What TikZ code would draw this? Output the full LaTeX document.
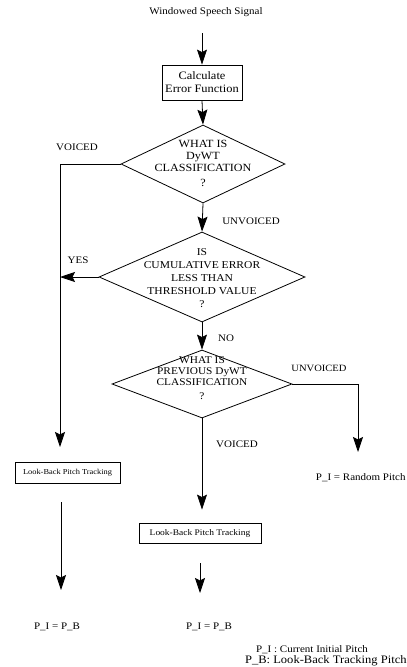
\documentclass[tikz,border=0pt]{standalone}
\usepackage{fontspec}
\setmainfont[FakeStretch=1.1]{Liberation Serif}
\usetikzlibrary{arrows.meta,shapes.geometric,calc}
\newcommand\fz[2]{\fontsize{#1}{#2}\selectfont}
\begin{document}
\begin{tikzpicture}[x=1pt,y=-1pt,
  line width=0.8pt,
  arr/.style={-{Stealth[length=15pt,width=10pt,inset=2.5pt]}},
  box/.style={draw, inner sep=0pt, align=center},
  dia/.style={draw, diamond, inner sep=0pt},
  dtxt/.style={align=center, inner sep=0pt},
  lbl/.style={inner sep=0pt, font=\fz{10}{12}}]
\useasboundingbox (0,0) rectangle (407,667);
% nodes
\node[inner sep=0pt, font=\fz{10}{12}] (title) at (206,12) {Windowed Speech Signal};
\coordinate (a0) at (202,33);
\node[box, minimum width=80pt, minimum height=35pt, font=\fz{11.3}{13}] (calc) at (202,82.5) {Calculate\\Error Function};
\node[dia, minimum width=164pt, minimum height=78pt] (d1) at (203,164) {};
\node[dtxt, font=\fz{11}{12}] (d1t) at (203,163) {WHAT IS\\DyWT\\CLASSIFICATION\\[3pt]?};
\node[dia, minimum width=206pt, minimum height=90pt] (d2) at (202,277) {};
\node[dtxt, font=\fz{10.5}{13}] (d2t) at (202,278) {IS\\CUMULATIVE ERROR\\LESS THAN\\THRESHOLD VALUE\\?};
\node[dia, minimum width=180pt, minimum height=68pt] (d3) at (202,384) {};
\node[dtxt, font=\fz{10.3}{11}] (d3t) at (202,378) {WHAT IS\\PREVIOUS DyWT\\CLASSIFICATION\\[3pt]?};
\node[box, minimum width=105pt, minimum height=21pt, font=\fz{7.6}{9}] (lb1) at (67.5,472.5) {Look-Back Pitch Tracking};
\node[box, minimum width=122pt, minimum height=20pt, font=\fz{8.6}{10}] (lb2) at (200,533) {Look-Back Pitch Tracking};
\node[lbl, anchor=east] (rp) at (406,478) {P\_I = Random Pitch};
\node[lbl] (pl) at (57,627) {P\_I = P\_B};
\node[lbl] (pm) at (209,627) {P\_I = P\_B};
\node[lbl] (leg1) at (312,650) {P\_I : Current Initial Pitch};
\node[lbl, anchor=east, font=\fz{11.4}{12}] (leg2) at (407,661) {P\_B: Look-Back Tracking Pitch};
% labels
\node[lbl] (v1) at (77,147) {VOICED};
\node[lbl] (u1) at (251,221) {UNVOICED};
\node[lbl] (yes) at (78,260) {YES};
\node[lbl] (no) at (226,338) {NO};
\node[lbl, font=\fz{9.6}{11}] (u2) at (319,368) {UNVOICED};
\node[lbl] (v2) at (237,444) {VOICED};
% connectors
\coordinate (vl) at (60,447);
\coordinate (vr) at (358,452);
\coordinate (vm) at (200,593);
\coordinate (vl2) at (61,590);
\draw[arr] (a0) -- (calc.north);
\draw[arr] (calc.south) -- (d1.north);
\draw[arr] (d1.south) -- (d2.north);
\draw[arr] (d2.south) -- (d3.north);
\draw[arr] (d1.west) -| (vl);
\draw[arr] (d2.west) -- (d2.west -| vl);
\draw[arr] (d3.east) -| (vr);
\draw[arr, shorten >=13pt] (d3.south) -- (d3.south |- lb2.north);
\draw[arr, shorten <=20pt] (vm |- lb2.south) -- (vm);
\draw[arr, shorten <=19pt] (vl2 |- lb1.south) -- (vl2);
\end{tikzpicture}
\end{document}
